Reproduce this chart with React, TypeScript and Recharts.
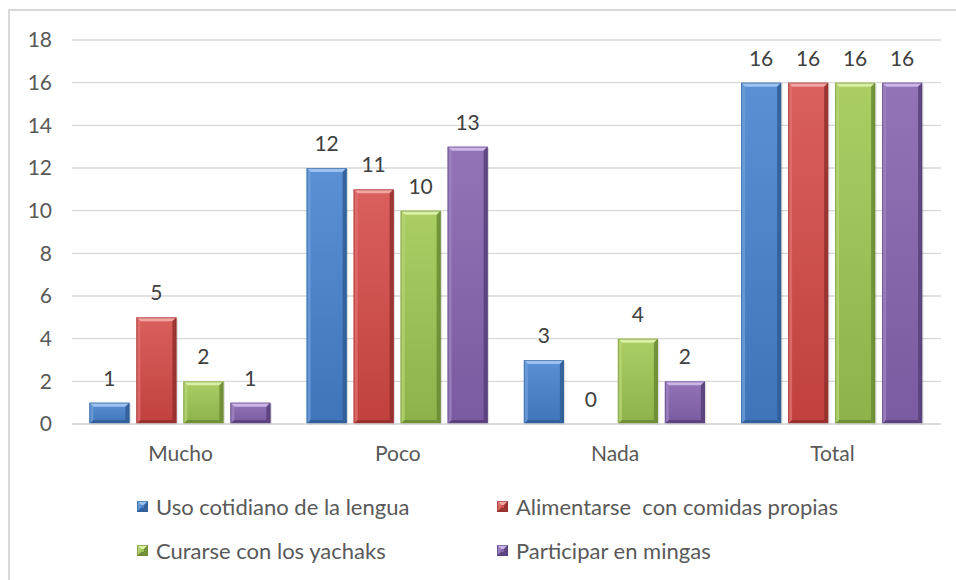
import { BarChart, Bar, XAxis, YAxis, CartesianGrid, LabelList } from "recharts";

const categories = ["Mucho", "Poco", "Nada", "Total"];
const usoLengua = [1, 12, 3, 16];
const alimentarse = [5, 11, 0, 16];
const curarse = [2, 10, 4, 16];
const mingas = [1, 13, 2, 16];
const yTicks = [0, 2, 4, 6, 8, 10, 12, 14, 16, 18];

const seriesNames = [
  "Uso cotidiano de la lengua",
  "Alimentarse  con comidas propias",
  "Curarse con los yachaks",
  "Participar en mingas",
];

const data = categories.map((c, i) => ({
  name: c,
  s0: usoLengua[i],
  s1: alimentarse[i],
  s2: curarse[i],
  s3: mingas[i],
}));

interface Pal {
  id: string;
  top: string;
  bottom: string;
  light: string;
  side: string;
  dark: string;
}

const palettes: Pal[] = [
  { id: "gb", top: "#5b91d4", bottom: "#3f74b8", light: "#9cc2ef", side: "#6d9edb", dark: "#2f5d96" },
  { id: "gr", top: "#da605d", bottom: "#c0413e", light: "#f2a6a3", side: "#df716e", dark: "#922f2d" },
  { id: "gg", top: "#abcd64", bottom: "#8db24a", light: "#d9efa3", side: "#b5d574", dark: "#6a8a34" },
  { id: "gp", top: "#9274b6", bottom: "#7a5aa0", light: "#cbb6e8", side: "#9d82c0", dark: "#57407a" },
];

const FONT = "Lato, 'Liberation Sans', sans-serif";

function BevelBar(props: any) {
  const { x, y, width: w, height: h, pal } = props;
  if (!h || h <= 0 || !w) return null;
  const b = Math.min(4, h / 2, w / 2);
  const p = (pts: number[][]) => pts.map((q) => q.join(",")).join(" ");
  return (
    <g>
      <defs>
        <linearGradient id={pal.id} x1="0" y1="0" x2="0" y2="1">
          <stop offset="0%" stopColor={pal.top} />
          <stop offset="100%" stopColor={pal.bottom} />
        </linearGradient>
      </defs>
      <rect x={x + 1.5} y={y + 1} width={w} height={h} fill="#000" fillOpacity={0.12} />
      <rect x={x} y={y} width={w} height={h} fill={`url(#${pal.id})`} />
      <polygon
        points={p([[x, y], [x + w, y], [x + w - b, y + b], [x + b, y + b]])}
        fill={pal.light}
      />
      <polygon
        points={p([[x, y], [x + b, y + b], [x + b, y + h - b], [x, y + h]])}
        fill={pal.side}
        fillOpacity={0.8}
      />
      <polygon
        points={p([[x + w, y], [x + w, y + h], [x + w - b, y + h - b], [x + w - b, y + b]])}
        fill={pal.dark}
        fillOpacity={0.85}
      />
      <polygon
        points={p([[x, y + h], [x + w, y + h], [x + w - b, y + h - b], [x + b, y + h - b]])}
        fill={pal.dark}
        fillOpacity={0.85}
      />
      <rect
        x={x + 0.5}
        y={y + 0.5}
        width={w - 1}
        height={h - 1}
        fill="none"
        stroke={pal.dark}
        strokeOpacity={0.6}
      />
    </g>
  );
}

function LegendSwatch({ pal }: { pal: Pal }) {
  return (
    <svg width={11} height={11} style={{ display: "block" }}>
      <BevelBar x={0} y={0} width={11} height={11} pal={{ ...pal, id: pal.id + "l" }} />
    </svg>
  );
}

const legendPos = [
  { left: 137, top: 493 },
  { left: 497, top: 493 },
  { left: 137, top: 537 },
  { left: 497, top: 537 },
];

export default function App() {
  return (
    <div
      style={{
        position: "absolute",
        left: 0,
        top: 0,
        width: 956,
        height: 580,
        overflow: "hidden",
        background: "#fff",
        fontFamily: FONT,
      }}
    >
      <div
        style={{
          position: "absolute",
          left: 8,
          top: 9,
          width: 1000,
          height: 600,
          borderLeft: "2px solid #d9d9d9",
          borderTop: "2px solid #d9d9d9",
        }}
      />
      <BarChart
        width={956}
        height={580}
        data={data}
        margin={{ top: 40, right: 15, bottom: 126, left: 0 }}
        barCategoryGap="8%"
        barGap={7}
        style={{ position: "absolute", left: 0, top: 0 }}
      >
        <CartesianGrid vertical={false} stroke="#d9d9d9" strokeWidth={1.3} />
        <XAxis
          dataKey="name"
          height={30}
          axisLine={{ stroke: "#d9d9d9", strokeWidth: 1.5 }}
          tickLine={false}
          tickSize={0}
          tickMargin={22}
          tick={{ fill: "#595959", fontSize: 21, fontFamily: FONT }}
        />
        <YAxis
          width={72}
          domain={[0, 18]}
          ticks={yTicks}
          axisLine={false}
          tickLine={false}
          tickSize={0}
          tickMargin={20}
          tick={{ fill: "#595959", fontSize: 21, fontFamily: FONT }}
        />
        {["s0", "s1", "s2", "s3"].map((k, i) => (
          <Bar
            key={k}
            dataKey={k}
            name={seriesNames[i]}
            fill={palettes[i].top}
            isAnimationActive={false}
            shape={(p: any) => <BevelBar {...p} pal={palettes[i]} />}
          >
            <LabelList
              dataKey={k}
              position="top"
              offset={17}
              fill="#404040"
              fontSize={21}
              fontFamily={FONT}
            />
          </Bar>
        ))}
      </BarChart>
      {seriesNames.map((n, i) => (
        <div
          key={n}
          style={{
            position: "absolute",
            left: legendPos[i].left,
            top: legendPos[i].top,
            display: "flex",
            alignItems: "center",
            gap: 8,
            color: "#595959",
            fontSize: 22,
            whiteSpace: "pre",
          }}
        >
          <LegendSwatch pal={palettes[i]} />
          <span>{n}</span>
        </div>
      ))}
    </div>
  );
}
